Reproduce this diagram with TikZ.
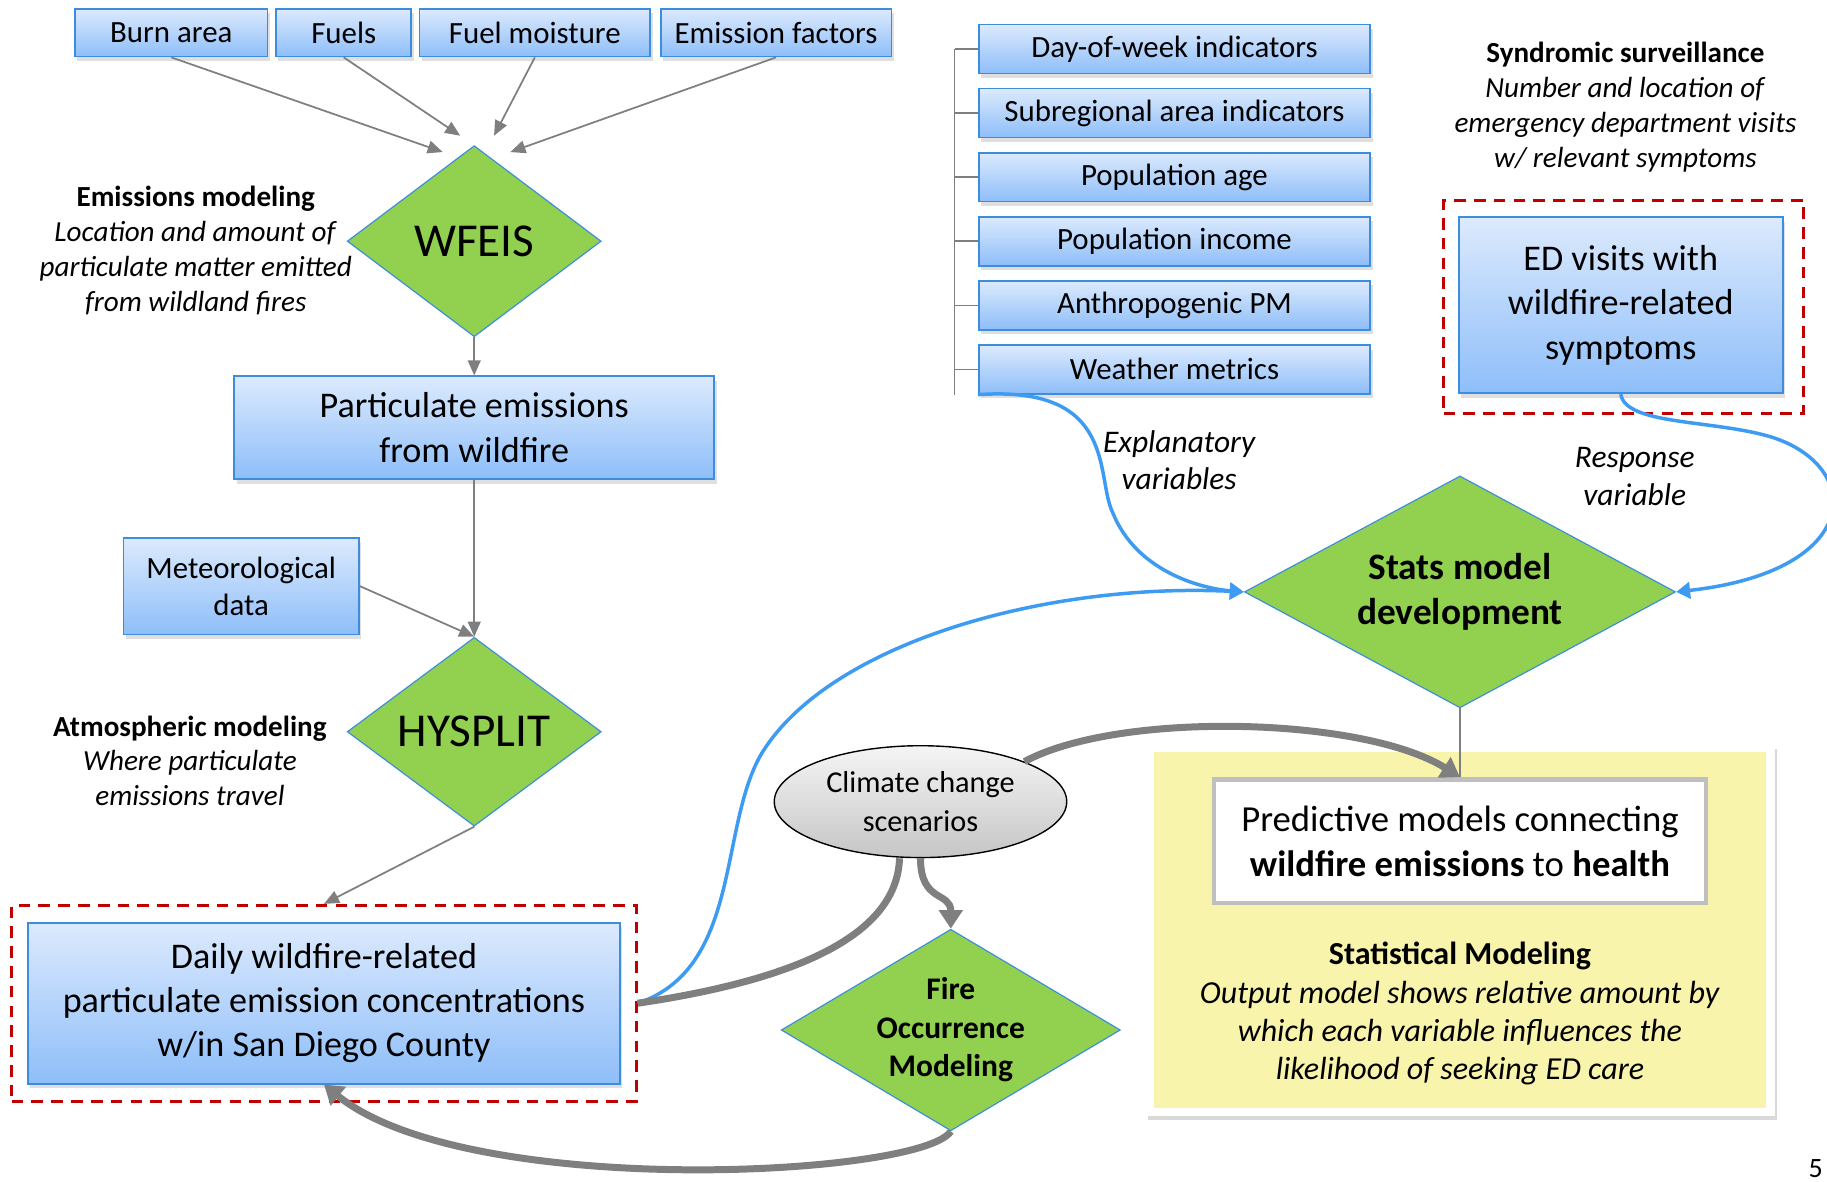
\documentclass[tikz,border=0pt]{standalone}
\usepackage{fontspec}
\setmainfont{Carlito}
\usetikzlibrary{shapes.geometric,arrows.meta,shadows,calc}

\definecolor{boxblue}{HTML}{3C8DDE}
\definecolor{boxtop}{HTML}{DCEAFD}
\definecolor{boxbot}{HTML}{8EBEF9}
\definecolor{leaf}{HTML}{92D050}
\definecolor{linegray}{HTML}{7F7F7F}
\definecolor{curveblue}{HTML}{3E9BF2}
\definecolor{framered}{HTML}{C00000}
\definecolor{panel}{HTML}{F9F4AB}

\tikzset{
  inbox/.style={rectangle, draw=boxblue, line width=1.5pt, top color=boxtop, bottom color=boxbot,
    drop shadow={opacity=0.25,shadow xshift=2pt,shadow yshift=-4pt},
    align=center, inner sep=0pt, font=\fontsize{26.5}{32}\selectfont},
  bigbox/.style={inbox, font=\fontsize{31}{38}\selectfont},
  decide/.style={diamond, draw=boxblue, line width=1pt, fill=leaf, inner sep=0pt, align=center},
  note/.style={align=center, font=\fontsize{25}{30}\selectfont},
  feed/.style={draw=linegray, line width=1.5pt, -{Triangle[length=13pt,width=11pt]}},
  fat/.style={draw=linegray, line width=6pt},
  fatarrow/.style={fat, -{Triangle[length=16pt,width=20pt]}},
  bluecurve/.style={draw=curveblue, line width=3pt, -{Triangle[length=12pt,width=14pt]}},
  redframe/.style={draw=framered, line width=2.5pt, dash pattern=on 10pt off 7pt},
  bracket/.style={draw=linegray, line width=1.2pt},
}

\begin{document}
\begin{tikzpicture}[x=1pt,y=-1pt]
\useasboundingbox (0,0) rectangle (1568,1014);

% emissions chain
\node[inbox, minimum width=165, minimum height=41] (burn) at (147,28) {Burn area};
\node[inbox, minimum width=116, minimum height=41] (fuels) at (295,28) {Fuels};
\node[inbox, minimum width=198, minimum height=41] (moist) at (459,28) {Fuel moisture};
\node[inbox, minimum width=198, minimum height=41] (factors) at (666,28) {Emission factors};

\node[decide, minimum width=218, minimum height=164, aspect=1.33, font=\fontsize{40.5}{40}\selectfont] (wfeis) at (407,207) {WFEIS};
\node[note] (emisnote) at (168,215) {\textbf{Emissions modeling}\\\textit{Location and amount of}\\\textit{particulate matter emitted}\\\textit{from wildland fires}};

\draw[feed] (burn.south) -- ($(wfeis.north)+(-27,6)$);
\draw[feed] (fuels.south) -- ($(wfeis.north)+(-12,-8)$);
\draw[feed] (moist.south) -- ($(wfeis.north)+(17,-8)$);
\draw[feed] (factors.south) -- ($(wfeis.north)+(31,6)$);

\node[bigbox, minimum width=412, minimum height=88] (partic) at (407,367) {Particulate emissions\\from wildfire};
\draw[feed] (wfeis.south) -- (partic.north);

\node[inbox, minimum width=202, minimum height=83] (meteo) at (207,503) {Meteorological\\data};
\node[decide, minimum width=218, minimum height=162, aspect=1.35, font=\fontsize{40.5}{40}\selectfont] (hysplit) at (407,628) {HYSPLIT};
\node[note] (atmosnote) at (163,653) {\textbf{Atmospheric modeling}\\\textit{Where particulate}\\\textit{emissions travel}};
\draw[feed] (partic.south) -- (hysplit.north);
\draw[feed] (meteo.east) -- (hysplit.north);

\node[redframe, minimum width=536, minimum height=168] (dailyframe) at (278,861) {};
\node[bigbox, minimum width=508, minimum height=138] (daily) at (278,861) {Daily wildfire-related\\particulate emission concentrations\\w/in San Diego County};
\draw[feed] (hysplit.south) -- (dailyframe.north);

% explanatory variables
\node[inbox, minimum width=336, minimum height=42] (dow) at (1008,42) {Day-of-week indicators};
\node[inbox, minimum width=336, minimum height=42] (subreg) at (1008,97) {Subregional area indicators};
\node[inbox, minimum width=336, minimum height=42] (popage) at (1008,152) {Population age};
\node[inbox, minimum width=336, minimum height=42] (popinc) at (1008,207) {Population income};
\node[inbox, minimum width=336, minimum height=42] (anthro) at (1008,262) {Anthropogenic PM};
\node[inbox, minimum width=336, minimum height=42] (weather) at (1008,317) {Weather metrics};
\foreach \n in {dow,subreg,popage,popinc,anthro,weather}
  \draw[bracket] (\n.west) -- ++(-20,0);
\draw[bracket] ($(dow.west)+(-20,0)$) -- ($(weather.south west)+(-20,0)$);

% response variable
\node[note] (syndnote) at (1395,92) {\textbf{Syndromic surveillance}\\\textit{Number and location of}\\\textit{emergency department visits}\\\textit{w/ relevant symptoms}};
\node[redframe, minimum width=309, minimum height=183] (edframe) at (1393.5,263.5) {};
\node[bigbox, minimum width=278, minimum height=151] (edvisits) at (1391,262) {ED visits with\\wildfire-related\\symptoms};

\node[decide, minimum width=370, minimum height=199, aspect=1.86, font=\bfseries\fontsize{32}{39}\selectfont] (stats) at (1253,508) {Stats model\\development};
\node[note, font=\itshape\fontsize{27}{32}\selectfont] (explabel) at (1012,395) {Explanatory\\variables};
\node[note, font=\itshape\fontsize{27}{32}\selectfont] (resplabel) at (1403,409) {Response\\variable};

\draw[bluecurve] (weather.south west) .. controls (960,330) and (940,410) .. (955,440) .. controls (975,490) and (1030,505) .. (stats.west);
\draw[bluecurve] (edvisits.south) .. controls (1395,365) and (1470,360) .. (1520,375) .. controls (1600,400) and (1600,490) .. (stats.east);
\draw[bluecurve] (dailyframe.east) .. controls (640,830) and (615,700) .. (658,640) .. controls (720,550) and (900,500) .. (stats.west);

% statistical modeling panel
\node[fill=white, drop shadow={opacity=0.3,shadow xshift=2pt,shadow yshift=-3pt}, minimum width=540, minimum height=318, inner sep=0pt] (statframe) at (1253,799) {};
\node[fill=panel, minimum width=526, minimum height=306, inner sep=0pt] (statpanel) at (1253,798) {};
\node[draw=gray!50, line width=4pt, fill=white, minimum width=422, minimum height=106, align=center, inner sep=0pt, font=\fontsize{31.5}{39}\selectfont] (predict) at (1253,722) {Predictive models connecting\\\textbf{wildfire emissions} to \textbf{health}};
\node[note, font=\fontsize{27.5}{33}\selectfont] (statnote) at (1253,870) {\textbf{Statistical Modeling}\\\textit{Output model shows relative amount by}\\\textit{which each variable influences the}\\\textit{likelihood of seeking ED care}};
\draw[draw=linegray, line width=1.5pt] (stats.south) -- (predict.north);

% climate and fire
\node[ellipse, draw=black, line width=1.2pt, top color=gray!8, bottom color=gray!45, minimum width=251, minimum height=96, inner sep=0pt, align=center, font=\fontsize{26}{33}\selectfont] (climate) at (790,688) {Climate change\\scenarios};
\node[decide, minimum width=291, minimum height=173, aspect=1.68, font=\bfseries\fontsize{27}{33}\selectfont] (fire) at (816,884) {Fire\\Occurrence\\Modeling};

\draw[fat] (dailyframe.east) .. controls (690,840) and (770,800) .. ($(climate.south)+(-18,0)$);
\draw[fatarrow] (climate.south) .. controls (790,775) and (816,765) .. (fire.north);
\draw[fatarrow] (climate.north east) .. controls (960,610) and (1170,615) .. (predict.north);
\draw[fatarrow] (fire.south) .. controls (790,1010) and (400,1030) .. (daily.south);

\node[anchor=east, font=\fontsize{24}{24}\selectfont] (pagenum) at (1568,1003) {5};
\end{tikzpicture}
\end{document}
